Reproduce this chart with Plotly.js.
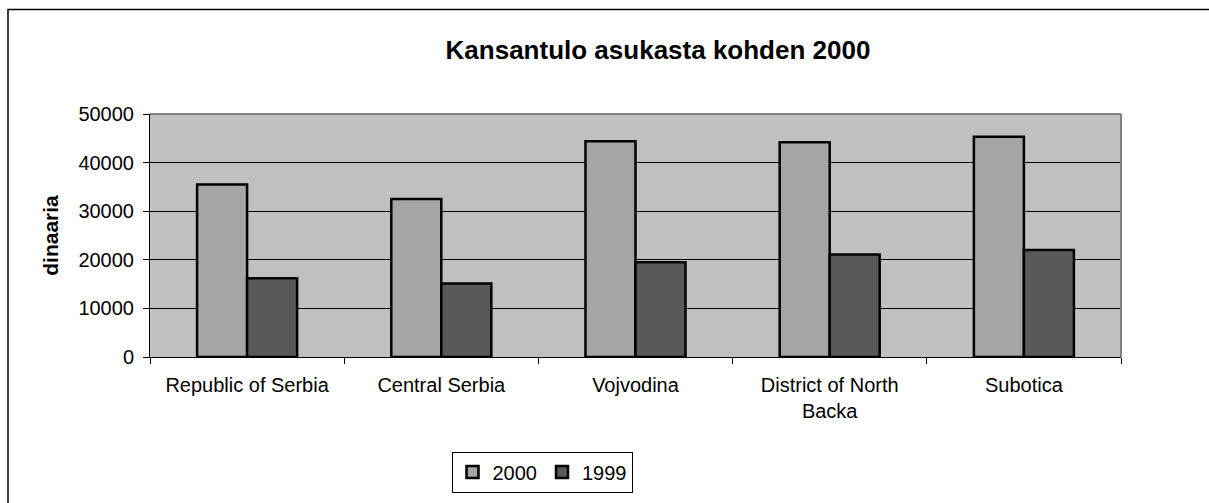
<!DOCTYPE html>
<html>
<head>
<meta charset="utf-8">
<script src="https://cdn.plot.ly/plotly-3.0.1.min.js"></script>
<style>
html, body { margin: 0; padding: 0; background: #ffffff; }
#chart { width: 1209px; height: 503px; }
</style>
</head>
<body>
<div id="chart"></div>
<script>
// Data
var categories = ["Republic of Serbia", "Central Serbia", "Vojvodina", "District of North Backa", "Subotica"];
var tickLabels = ["Republic of Serbia", "Central Serbia", "Vojvodina", "District of North<br>Backa", "Subotica"];
var values2000 = [35500, 32500, 44400, 44200, 45300];
var values1999 = [16200, 15100, 19500, 21100, 22000];
var seriesNames = ["2000", "1999"];
var yTicks = [0, 10000, 20000, 30000, 40000, 50000];

var W = 1209, H = 503;
var L = 150, R = 1121, T = 114, B = 358;
var pw = R - L, ph = B - T;
function px2x(p) { return (p - L) / pw; }
function px2y(p) { return (B - p) / ph; }

var FONT = "Liberation Sans, Arial, Helvetica, sans-serif";

var traces = [
  {
    type: "bar", name: seriesNames[0], x: categories, y: values2000,
    marker: { color: "#a5a5a5", line: { color: "#000000", width: 2.5 } },
    hoverinfo: "x+y+name"
  },
  {
    type: "bar", name: seriesNames[1], x: categories, y: values1999,
    marker: { color: "#595959", line: { color: "#000000", width: 2.5 } },
    hoverinfo: "x+y+name"
  }
];

var layout = {
  width: W, height: H,
  margin: { l: L, r: W - R, t: T, b: H - B, pad: 0 },
  paper_bgcolor: "#ffffff",
  plot_bgcolor: "#c0c0c0",
  font: { family: FONT, size: 20, color: "#000000" },
  title: {
    text: "<b>Kansantulo asukasta kohden 2000</b>",
    font: { family: FONT, size: 26, color: "#000000" },
    x: 658 / W, xanchor: "center", xref: "container",
    y: 1 - 50 / H, yanchor: "middle", yref: "container"
  },
  barmode: "group",
  bargap: 0.485,
  bargroupgap: 0,
  showlegend: true,
  legend: {
    orientation: "h",
    x: px2x(542), xanchor: "center",
    y: px2y(472), yanchor: "middle",
    bgcolor: "#ffffff",
    bordercolor: "#000000", borderwidth: 1,
    font: { family: FONT, size: 20, color: "#000000" },
    itemwidth: 30,
    traceorder: "normal"
  },
  xaxis: {
    type: "category",
    tickmode: "array",
    tickvals: categories,
    ticktext: tickLabels,
    tickson: "boundaries",
    ticks: "outside", ticklen: 6, tickcolor: "#000000", tickwidth: 1,
    ticklabelstandoff: 10,
    showline: true, linecolor: "#000000", linewidth: 1,
    showgrid: false, zeroline: false,
    tickfont: { family: FONT, size: 20, color: "#000000" },
    tickangle: 0,
    automargin: false
  },
  yaxis: {
    range: [0, 50000],
    tickmode: "array", tickvals: yTicks, ticktext: yTicks.map(String),
    ticks: "outside", ticklen: 6, tickcolor: "#000000", tickwidth: 1,
    ticklabelstandoff: 5,
    showline: true, linecolor: "#000000", linewidth: 1,
    showgrid: true, gridcolor: "#000000", gridwidth: 1,
    zeroline: false,
    tickfont: { family: FONT, size: 20, color: "#000000" },
    title: {
      text: "<b>dinaaria</b>",
      font: { family: FONT, size: 21, color: "#000000" },
      standoff: 14
    },
    automargin: false
  },
  shapes: [
    // outer chart frame (cut off at right and bottom)
    { type: "rect", xref: "paper", yref: "paper",
      x0: px2x(8), x1: px2x(1230), y0: px2y(530), y1: px2y(9),
      line: { color: "#000000", width: 1.5 }, fillcolor: "rgba(0,0,0,0)", layer: "below" },
    // plot area top and right borders in grey
    { type: "line", xref: "paper", yref: "paper", x0: 0, x1: 1, y0: 1, y1: 1,
      line: { color: "#808080", width: 2 } },
    { type: "line", xref: "paper", yref: "paper", x0: 1, x1: 1, y0: 0, y1: 1,
      line: { color: "#808080", width: 2 } }
  ]
};

Plotly.newPlot("chart", traces, layout, { displayModeBar: false, staticPlot: true });
</script>
</body>
</html>
